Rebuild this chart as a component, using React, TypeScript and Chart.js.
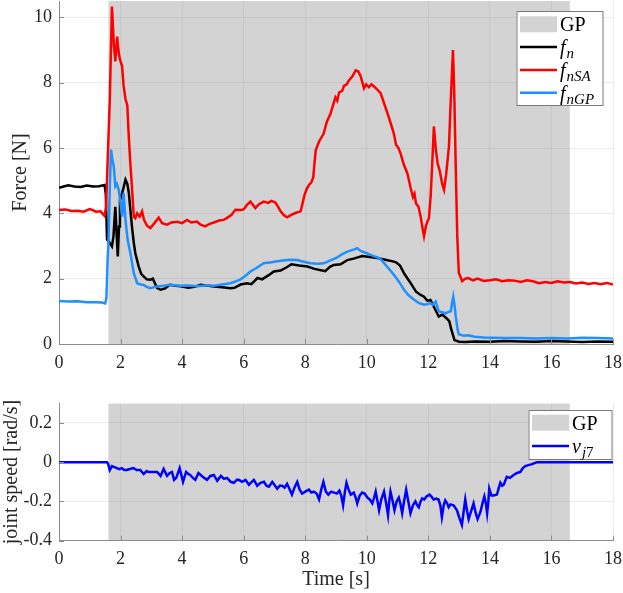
import { useEffect, useRef } from "react";
import { Chart, registerables } from "chart.js";

Chart.register(...registerables);

// grey band: GP phase [s]
const gpStart = 1.6;
const gpEnd = 16.6;

const timeTicks = [0, 2, 4, 6, 8, 10, 12, 14, 16, 18];
const forceTicks = [0, 2, 4, 6, 8, 10];
const speedTicks = [-0.4, -0.2, 0, 0.2];
const speedTickLabels = ["-0.4", "-0.2", "0", "0.2"];

// f_n (measured normal force)
const fnTime = [
  0, 0.15, 0.3, 0.5, 0.7, 0.9, 1.1, 1.3, 1.48, 1.52, 1.56, 1.6, 1.65, 1.72, 1.77, 1.83, 1.87, 1.91, 1.95, 1.98,
  2.05, 2.1, 2.16, 2.22, 2.27, 2.32, 2.37, 2.43, 2.48, 2.59, 2.67, 2.75, 2.85, 2.97, 3.05, 3.12, 3.19, 3.3, 3.45,
  3.6, 3.8, 4.0, 4.2, 4.4, 4.6, 4.8, 5.03, 5.3, 5.57, 5.7, 5.9, 6.11, 6.25, 6.45, 6.6, 6.8, 6.98, 7.2, 7.4, 7.55,
  7.8, 8.07, 8.3, 8.55, 8.65, 8.8, 8.93, 9.15, 9.37, 9.6, 9.85, 10.1, 10.34, 10.6, 10.85, 10.95, 11.08, 11.22,
  11.4, 11.6, 11.75, 11.86, 11.97, 12.07, 12.2, 12.34, 12.45, 12.6, 12.68, 12.75, 12.85, 13.0, 13.2, 13.5, 14,
  14.5, 15, 15.5, 16, 16.5, 17, 17.5, 18,
];
const fnForce = [
  4.78, 4.82, 4.86, 4.82, 4.81, 4.85, 4.82, 4.83, 4.87, 4.6, 3.2, 3.15, 3.09, 2.99, 3.3, 4.2, 3.4, 2.68, 3.6, 4.4,
  4.62, 4.8, 5.03, 4.9, 4.62, 4.1, 3.6, 3.1, 2.78, 2.37, 2.15, 2.07, 1.98, 1.97, 2.0, 1.85, 1.71, 1.66, 1.7,
  1.81, 1.78, 1.76, 1.72, 1.75, 1.81, 1.79, 1.76, 1.74, 1.71, 1.72, 1.82, 1.86, 1.83, 2.02, 1.98, 2.1, 2.22, 2.25,
  2.35, 2.44, 2.4, 2.37, 2.3, 2.25, 2.23, 2.36, 2.42, 2.44, 2.57, 2.62, 2.69, 2.66, 2.63, 2.58, 2.53, 2.5, 2.4,
  2.15, 1.9, 1.6, 1.5, 1.45, 1.32, 1.35, 1.1, 0.84, 0.9, 0.78, 0.7, 0.43, 0.12, 0.07, 0.06, 0.08, 0.07, 0.09,
  0.08, 0.07, 0.09, 0.08, 0.06, 0.08, 0.07,
];

// f_nSA
const fnsaTime = [
  0, 0.2, 0.4, 0.6, 0.8, 1.0, 1.1, 1.2, 1.35, 1.48, 1.53, 1.58, 1.65, 1.72, 1.78, 1.83, 1.89, 1.93, 1.97, 2.05,
  2.1, 2.16, 2.22, 2.27, 2.32, 2.37, 2.43, 2.48, 2.54, 2.62, 2.7, 2.76, 2.86, 2.97, 3.1, 3.24, 3.35, 3.51, 3.65,
  3.84, 4.0, 4.16, 4.3, 4.48, 4.6, 4.75, 4.9, 5.03, 5.2, 5.35, 5.46, 5.6, 5.73, 5.9, 6.0, 6.1, 6.22, 6.38, 6.5,
  6.65, 6.8, 6.9, 7.03, 7.12, 7.2, 7.3, 7.41, 7.55, 7.68, 7.85, 7.98, 8.05, 8.12, 8.2, 8.26, 8.34, 8.45, 8.6, 8.7,
  8.82, 8.9, 8.98, 9.04, 9.1, 9.2, 9.26, 9.35, 9.42, 9.54, 9.64, 9.72, 9.8, 9.91, 9.98, 10.07, 10.15, 10.23,
  10.35, 10.45, 10.55, 10.67, 10.78, 10.88, 10.95, 11.03, 11.1, 11.2, 11.32, 11.42, 11.5, 11.55, 11.6, 11.68,
  11.75, 11.82, 11.86, 11.92, 11.97, 12.02, 12.08, 12.14, 12.18, 12.24, 12.3, 12.37, 12.45, 12.51, 12.58, 12.67,
  12.73, 12.8, 12.84, 12.89, 12.94, 12.99, 13.1, 13.2, 13.3, 13.45, 13.6, 13.8, 14.0, 14.2, 14.4, 14.6, 14.8,
  15.0, 15.2, 15.4, 15.6, 15.8, 16.0, 16.2, 16.4, 16.6, 16.8, 17.0, 17.2, 17.4, 17.6, 17.8, 18.0,
];
const fnsaForce = [
  4.1, 4.12, 4.07, 4.08, 4.05, 4.13, 4.1, 4.05, 4.06, 3.92, 4.2, 5.6, 7.47, 10.33, 9.2, 8.65, 9.41, 9.0, 8.75, 8.5,
  7.9, 7.5, 7.3, 6.3, 5.5, 4.8, 3.9, 3.85, 4.0, 3.9, 4.06, 3.8, 3.62, 3.55, 3.7, 3.87, 3.7, 3.65, 3.72,
  3.74, 3.7, 3.8, 3.72, 3.75, 3.65, 3.6, 3.68, 3.72, 3.78, 3.8, 3.86, 3.95, 4.11, 4.1, 4.12, 4.25, 4.36, 4.16, 4.28,
  4.36, 4.32, 4.38, 4.33, 4.2, 4.06, 3.95, 3.88, 3.95, 4.01, 4.06, 4.57, 4.75, 4.87, 4.95, 5.1, 5.93, 6.2, 6.44, 6.8,
  7.05, 7.3, 7.55, 7.45, 7.7, 7.75, 7.9, 7.95, 8.07, 8.2, 8.38, 8.35, 8.2, 7.83, 7.95, 7.86, 7.95, 7.89,
  7.78, 7.68, 7.4, 7.07, 6.75, 6.44, 6.1, 6.0, 5.83, 5.5, 5.22, 4.8, 4.5, 4.6, 4.3, 4.2,
  3.9, 3.5, 3.3, 3.6, 3.75, 3.85, 4.6, 5.8, 6.66, 6.0, 5.54, 5.3, 4.9, 4.72, 5.2, 6.05,
  7.5, 9.0, 7.8, 5.44, 3.3, 2.18, 1.92, 2.0, 2.02, 1.95, 2.0, 1.93, 1.95, 1.98, 1.92, 1.95, 1.94,
  1.9, 1.95, 1.92, 1.86, 1.9, 1.87, 1.92, 1.88, 1.9, 1.85, 1.88, 1.84, 1.87, 1.83, 1.87, 1.82,
];

// f_nGP
const fngpTime = [
  0, 0.3, 0.6, 0.9, 1.2, 1.4, 1.5, 1.54, 1.58, 1.61, 1.65, 1.69, 1.74, 1.78, 1.83, 1.88, 1.94, 2.0, 2.05, 2.1,
  2.16, 2.23, 2.32, 2.43, 2.54, 2.65, 2.75, 2.85, 2.97, 3.1, 3.19, 3.4, 3.62, 3.9, 4.2, 4.5, 4.8, 5.03, 5.3, 5.57,
  5.75, 5.9, 6.05, 6.22, 6.4, 6.65, 6.9, 7.2, 7.5, 7.74, 7.95, 8.17, 8.4, 8.6, 8.8, 9.04, 9.2, 9.37, 9.55, 9.69,
  9.8, 10.02, 10.12, 10.34, 10.45, 10.65, 10.88, 11.05, 11.21, 11.35, 11.53, 11.7, 11.86, 11.97, 12.07, 12.15,
  12.24, 12.34, 12.45, 12.56, 12.65, 12.73, 12.78, 12.81, 12.85, 12.89, 12.95, 12.99, 13.15, 13.3, 13.5, 13.8,
  14.1, 14.5, 15, 15.5, 16, 16.5, 17, 17.5, 18,
];
const fngpForce = [
  1.32, 1.3, 1.31, 1.28, 1.28, 1.27, 1.24, 1.4, 2.6, 3.19, 4.8, 5.95, 5.6, 5.44, 4.83, 4.9, 4.72, 4.3, 3.9, 4.62,
  3.8, 3.19, 2.78, 2.17, 1.86, 1.82, 1.81, 1.75, 1.71, 1.74, 1.76, 1.78, 1.81, 1.78, 1.79, 1.77, 1.8, 1.78, 1.82, 1.86,
  1.92, 1.98, 2.08, 2.22, 2.32, 2.47, 2.5, 2.55, 2.58, 2.57, 2.52, 2.47, 2.46, 2.47, 2.55, 2.65, 2.75, 2.83, 2.88, 2.93,
  2.85, 2.77, 2.73, 2.65, 2.6, 2.38, 2.12, 1.9, 1.66, 1.5, 1.36, 1.25, 1.2, 1.22, 1.25, 1.2,
  1.3, 1.0, 0.97, 0.94, 0.98, 1.0, 1.3, 1.45, 1.2, 0.85, 0.45, 0.3, 0.25, 0.27, 0.22, 0.2,
  0.19, 0.18, 0.18, 0.17, 0.18, 0.17, 0.19, 0.18, 0.17,
];

// v_j7 joint speed [rad/s]
const vj7Time = [
  0, 0.8, 1.56, 1.6, 1.65, 1.72, 1.8, 1.88, 1.96, 2.04, 2.12, 2.2, 2.3, 2.42, 2.52, 2.64, 2.75, 2.85, 2.91, 3.05,
  3.19, 3.3, 3.4, 3.51, 3.6, 3.67, 3.74, 3.81, 3.92, 4.03, 4.13, 4.2, 4.26, 4.35, 4.43, 4.53, 4.64, 4.72, 4.81,
  4.92, 5.03, 5.14, 5.26, 5.36, 5.46, 5.58, 5.68, 5.78, 5.84, 5.95, 6.06, 6.17, 6.26, 6.33, 6.44, 6.55, 6.66, 6.74,
  6.82, 6.93, 7.02, 7.09, 7.17, 7.25, 7.33, 7.41, 7.5, 7.57, 7.65, 7.74, 7.82, 7.9, 8.0, 8.12, 8.2, 8.28, 8.37,
  8.45, 8.52, 8.59, 8.67, 8.75, 8.84, 8.94, 9.03, 9.11, 9.17, 9.23, 9.29, 9.34, 9.41, 9.48, 9.53, 9.58, 9.64, 9.69,
  9.77, 9.85, 9.93, 10.02, 10.1, 10.18, 10.24, 10.29, 10.35, 10.4, 10.47, 10.56, 10.63, 10.69, 10.73, 10.77, 10.83,
  10.9, 10.97, 11.04, 11.09, 11.15, 11.21, 11.28, 11.35, 11.42, 11.5, 11.58, 11.64, 11.69, 11.75, 11.8, 11.87,
  11.94, 12.04, 12.1, 12.17, 12.25, 12.33, 12.39, 12.44, 12.5, 12.55, 12.61, 12.66, 12.72, 12.82, 12.93, 13.0,
  13.09, 13.14, 13.2, 13.26, 13.31, 13.37, 13.47, 13.54, 13.6, 13.69, 13.76, 13.82, 13.87, 13.91, 13.95, 13.98,
  14.05, 14.12, 14.23, 14.29, 14.34, 14.4, 14.45, 14.55, 14.65, 14.77, 14.88, 14.99, 15.07, 15.15, 15.25, 15.37,
  15.45, 15.53, 16.5, 18,
];
const vj7Speed = [
  0, 0, 0, -0.01, -0.04, -0.02, -0.025, -0.03, -0.035, -0.03, -0.04, -0.04, -0.035, -0.03, -0.04, -0.04, -0.06,
  -0.045, -0.05, -0.05, -0.05, -0.07, -0.035, -0.07, -0.055, -0.05, -0.09, -0.08, -0.03, -0.1, -0.05, -0.06, -0.065,
  -0.08, -0.09, -0.055, -0.07, -0.08, -0.09, -0.07, -0.065, -0.095, -0.07, -0.085, -0.08, -0.1, -0.105, -0.09,
  -0.09, -0.1, -0.09, -0.115, -0.1, -0.09, -0.12, -0.105, -0.1, -0.12, -0.125, -0.1, -0.12, -0.135, -0.12, -0.12,
  -0.13, -0.11, -0.14, -0.165, -0.13, -0.1, -0.14, -0.16, -0.15, -0.14, -0.155, -0.15, -0.16, -0.19, -0.14, -0.1,
  -0.15, -0.165, -0.15, -0.155, -0.16, -0.145, -0.17, -0.22, -0.15, -0.105, -0.14, -0.165, -0.16, -0.155, -0.18,
  -0.21, -0.17, -0.155, -0.16, -0.18, -0.19, -0.21, -0.18, -0.15, -0.2, -0.245, -0.19, -0.15, -0.21, -0.27, -0.2,
  -0.15, -0.19, -0.245, -0.2, -0.18, -0.21, -0.26, -0.2, -0.14, -0.2, -0.26, -0.22, -0.2, -0.22, -0.23, -0.2,
  -0.185, -0.19, -0.175, -0.165, -0.175, -0.19, -0.185, -0.19, -0.22, -0.28, -0.22, -0.195, -0.21, -0.23, -0.215,
  -0.22, -0.245, -0.28, -0.32, -0.26, -0.19, -0.25, -0.29, -0.26, -0.21, -0.26, -0.29, -0.255, -0.21, -0.175,
  -0.21, -0.26, -0.2, -0.135, -0.17, -0.17, -0.165, -0.13, -0.105, -0.12, -0.115, -0.075, -0.08, -0.065, -0.055,
  -0.05, -0.03, -0.02, -0.015, -0.01, -0.005, 0, 0, 0,
];

const serif = "'Liberation Serif', 'Times New Roman', serif";
const axisColor = "#8c8c8c";
const gridColor = "rgba(0,0,0,0.08)";
const textColor = "#262626";
const bandColor = "rgba(150,150,150,0.42)";
const bandLegend = "#d3d3d3";

type Run = { text: string; italic?: boolean; sub?: boolean };
type LegendItem = { kind: "patch" | "line"; color: string; runs: Run[] };
type LegendBox = { x: number; y: number; w: number; h: number; first: number; step: number };

const pts = (xs: number[], ys: number[]) => xs.map((x, i) => ({ x, y: ys[i] }));

const legendPlugin = (box: LegendBox, items: LegendItem[]) => ({
  id: "matlabLegend",
  afterDraw(chart: any) {
    const ctx = chart.ctx;
    ctx.save();
    ctx.fillStyle = "#fff";
    ctx.fillRect(box.x, box.y, box.w, box.h);
    ctx.strokeStyle = "#7a7a7a";
    ctx.lineWidth = 1;
    ctx.strokeRect(box.x + 0.5, box.y + 0.5, box.w, box.h);
    items.forEach((it, i) => {
      const cy = box.y + box.first + i * box.step;
      if (it.kind === "patch") {
        ctx.fillStyle = it.color;
        ctx.fillRect(box.x + 3.5, cy - 8, 37, 16);
      } else {
        ctx.strokeStyle = it.color;
        ctx.lineWidth = 2.5;
        ctx.beginPath();
        ctx.moveTo(box.x + 3.5, cy);
        ctx.lineTo(box.x + 40.5, cy);
        ctx.stroke();
      }
      let x = box.x + 43.5;
      ctx.fillStyle = "#000";
      ctx.textBaseline = "alphabetic";
      ctx.textAlign = "left";
      for (const r of it.runs) {
        ctx.font = `${r.italic ? "italic " : ""}${r.sub ? 15 : 20}px ${serif}`;
        ctx.fillText(r.text, x, cy + (r.sub ? 11 : 7));
        x += ctx.measureText(r.text).width + (r.italic && !r.sub ? 1 : 0);
      }
    });
    ctx.restore();
  },
});

// MATLAB style inward tick marks
const innerTicks = {
  id: "innerTicks",
  afterDatasetsDraw(chart: any) {
    const { ctx, chartArea: a, scales } = chart;
    ctx.save();
    ctx.strokeStyle = axisColor;
    ctx.lineWidth = 1;
    ctx.beginPath();
    scales.x.ticks.forEach((t: any) => {
      const px = Math.round(scales.x.getPixelForValue(t.value)) + 0.5;
      ctx.moveTo(px, a.bottom);
      ctx.lineTo(px, a.bottom - 5);
    });
    scales.y.ticks.forEach((t: any) => {
      const py = Math.round(scales.y.getPixelForValue(t.value)) + 0.5;
      ctx.moveTo(a.left, py);
      ctx.lineTo(a.left + 5, py);
    });
    ctx.stroke();
    ctx.restore();
  },
};

const lineSet = (label: string, xs: number[], ys: number[], color: string, order: number) => ({
  label,
  data: pts(xs, ys),
  borderColor: color,
  borderWidth: 2.5,
  pointRadius: 0,
  tension: 0,
  fill: false,
  order,
});

const bandSet = (top: number) => ({
  label: "GP",
  data: [
    { x: gpStart, y: top },
    { x: gpEnd, y: top },
  ],
  borderWidth: 0,
  borderColor: "rgba(0,0,0,0)",
  backgroundColor: bandColor,
  pointRadius: 0,
  fill: "start",
  order: 10,
});

const timeAxis = (height: number, withTitle: boolean) => ({
  type: "linear",
  min: 0,
  max: 18,
  afterBuildTicks: (s: any) => {
    s.ticks = timeTicks.map((value) => ({ value }));
  },
  afterFit: (s: any) => {
    s.height = height;
    s.paddingLeft = 0;
    s.paddingRight = 0;
  },
  grid: { color: gridColor, drawTicks: false },
  border: { display: true, color: axisColor },
  ticks: {
    padding: 8,
    color: textColor,
    font: { family: serif, size: 18 },
    maxRotation: 0,
    autoSkip: false,
    callback: (v: number) => String(v),
  },
  title: {
    display: withTitle,
    text: "Time [s]",
    color: textColor,
    font: { family: serif, size: 20 },
    padding: { top: 0, bottom: 1 },
  },
});

const valueAxis = (
  min: number,
  max: number,
  values: number[],
  labels: string[],
  title: string,
  titlePad: number
) => ({
  type: "linear",
  min,
  max,
  afterBuildTicks: (s: any) => {
    s.ticks = values.map((value) => ({ value }));
  },
  afterFit: (s: any) => {
    s.width = 59;
    s.paddingTop = 0;
    s.paddingBottom = 0;
  },
  grid: { color: gridColor, drawTicks: false },
  border: { display: true, color: axisColor },
  ticks: {
    padding: 7,
    color: textColor,
    font: { family: serif, size: 18 },
    autoSkip: false,
    callback: (v: number) => labels[values.indexOf(v)] ?? String(v),
  },
  title: {
    display: true,
    text: title,
    color: textColor,
    font: { family: serif, size: 20 },
    padding: { top: titlePad, bottom: 0 },
  },
});

function Panel({ width, height, build }: { width: number; height: number; build: () => any }) {
  const ref = useRef<HTMLCanvasElement | null>(null);

  useEffect(() => {
    const chart = new Chart(ref.current!.getContext("2d")!, build());
    return () => {
      chart.destroy();
    };
  }, []);

  return <canvas ref={ref} width={width} height={height} style={{ display: "block", width, height }} />;
}

const forceConfig = () => ({
  type: "line",
  data: {
    datasets: [
      lineSet("fnGP", fngpTime, fngpForce, "rgb(30,144,255)", 1),
      lineSet("fnSA", fnsaTime, fnsaForce, "#ff0000", 2),
      lineSet("fn", fnTime, fnForce, "#000000", 3),
      bandSet(10.5),
    ],
  },
  options: {
    responsive: false,
    animation: false,
    events: [],
    layout: { padding: { top: 1, right: 10, bottom: 0, left: 0 } },
    plugins: { legend: { display: false }, tooltip: { enabled: false } },
    scales: {
      x: timeAxis(36, false),
      y: valueAxis(0, 10.5, forceTicks, forceTicks.map(String), "Force [N]", 9),
    },
  },
  plugins: [
    innerTicks,
    legendPlugin({ x: 516.5, y: 11, w: 86, h: 94, first: 13.3, step: 22.8 }, [
      { kind: "patch", color: bandLegend, runs: [{ text: "GP" }] },
      { kind: "line", color: "#000000", runs: [{ text: "f", italic: true }, { text: "n", italic: true, sub: true }] },
      { kind: "line", color: "#ff0000", runs: [{ text: "f", italic: true }, { text: "nSA", italic: true, sub: true }] },
      { kind: "line", color: "rgb(30,144,255)", runs: [{ text: "f", italic: true }, { text: "nGP", italic: true, sub: true }] },
    ]),
  ],
});

const speedConfig = () => ({
  type: "line",
  data: {
    datasets: [lineSet("vj7", vj7Time, vj7Speed, "#0000ff", 1), bandSet(0.3)],
  },
  options: {
    responsive: false,
    animation: false,
    events: [],
    layout: { padding: { top: 23.3, right: 10, bottom: 0, left: 0 } },
    plugins: { legend: { display: false }, tooltip: { enabled: false } },
    scales: {
      x: timeAxis(52.3, true),
      y: valueAxis(-0.4, 0.3, speedTicks, speedTickLabels, "joint speed [rad/s]", 0),
    },
  },
  plugins: [
    innerTicks,
    legendPlugin({ x: 528.5, y: 30, w: 83, h: 49, first: 12.7, step: 23.3 }, [
      { kind: "patch", color: bandLegend, runs: [{ text: "GP" }] },
      { kind: "line", color: "#0000ff", runs: [{ text: "v", italic: true }, { text: "j", italic: true, sub: true }, { text: "7", sub: true }] },
    ]),
  ],
});

export default function App() {
  useEffect(() => {
    document.body.style.margin = "0";
  }, []);

  return (
    <div style={{ position: "relative", width: 623, height: 593, background: "#fff" }}>
      <Panel width={623} height={380} build={forceConfig} />
      <Panel width={623} height={213} build={speedConfig} />
    </div>
  );
}
